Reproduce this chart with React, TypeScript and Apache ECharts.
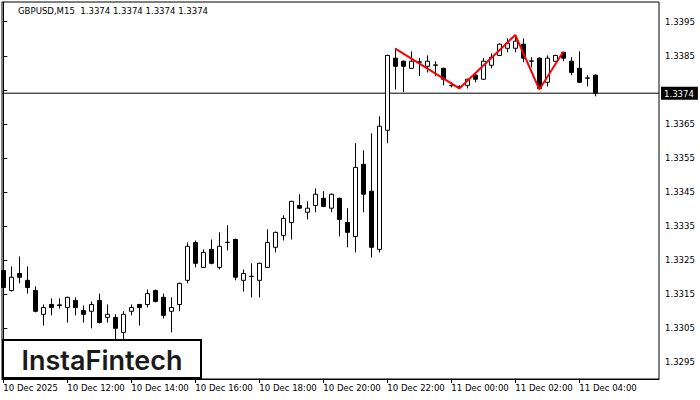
import React, { useEffect, useRef } from "react";
import * as echarts from "echarts";

const titleText = "GBPUSD,M15  1.3374 1.3374 1.3374 1.3374";
const logoText = "InstaFintech";

// 15-minute candles, index 0 = 10 Dec 2025 10:00
const opens = [
  1.33219, 1.3316, 1.3321, 1.3319, 1.3316, 1.3309, 1.33119, 1.33116, 1.3311, 1.33131,
  1.33101, 1.33099, 1.33131, 1.33081, 1.33081, 1.33037, 1.33099, 1.33119, 1.33119, 1.3316,
  1.3314, 1.33099, 1.33119, 1.3319, 1.33301, 1.33228, 1.33281, 1.33228, 1.33301, 1.3331,
  1.3319, 1.33201, 1.3319, 1.33228, 1.33287, 1.33322, 1.3336, 1.3341, 1.3339, 1.3341,
  1.33431, 1.33402, 1.33431, 1.3336, 1.33319, 1.33531, 1.33452, 1.33281, 1.33631, 1.33843,
  1.33834, 1.33813, 1.33831, 1.33819, 1.33822, 1.33813, 1.33763, 1.33758, 1.33763, 1.33793,
  1.33781, 1.33822, 1.33851, 1.33872, 1.33872, 1.33884, 1.33834, 1.33843, 1.33772, 1.33834,
  1.3386, 1.33834, 1.33813, 1.33784, 1.33793,
];
const closes = [
  1.33169, 1.33199, 1.33199, 1.33169, 1.33099, 1.3311, 1.3311, 1.33118, 1.3314, 1.3311,
  1.3309, 1.33119, 1.33066, 1.3309, 1.33049, 1.3309, 1.3311, 1.3311, 1.33151, 1.33128,
  1.33087, 1.3311, 1.33181, 1.3329, 1.3324, 1.33272, 1.3324, 1.3329, 1.33302, 1.33199,
  1.3321, 1.33202, 1.3324, 1.33301, 1.33331, 1.33372, 1.33422, 1.33402, 1.33402, 1.33443,
  1.33407, 1.33443, 1.33369, 1.33331, 1.33522, 1.33443, 1.33287, 1.33643, 1.33851, 1.33819,
  1.33819, 1.33834, 1.33832, 1.33834, 1.33823, 1.33781, 1.33762, 1.3376, 1.33781, 1.33781,
  1.33834, 1.33846, 1.33884, 1.33887, 1.33893, 1.33843, 1.33835, 1.33754, 1.33843, 1.33851,
  1.33843, 1.33801, 1.33772, 1.33785, 1.3374,
];
const lows = [
  1.33151, 1.33157, 1.33181, 1.33151, 1.33096, 1.33057, 1.33087, 1.33107, 1.33066, 1.33087,
  1.33066, 1.33049, 1.33063, 1.33066, 1.33013, 1.33013, 1.33087, 1.33057, 1.3311, 1.33125,
  1.33078, 1.33037, 1.33099, 1.33181, 1.33228, 1.33226, 1.33237, 1.33222, 1.33278, 1.3319,
  1.33157, 1.3314, 1.3314, 1.33226, 1.33272, 1.33307, 1.3331, 1.334, 1.33369, 1.3339,
  1.33405, 1.3339, 1.33319, 1.33287, 1.33272, 1.3339, 1.33257, 1.33272, 1.33593, 1.33751,
  1.33743, 1.33811, 1.3379, 1.33801, 1.3379, 1.33763, 1.33757, 1.33754, 1.33754, 1.33772,
  1.33779, 1.33813, 1.33849, 1.3386, 1.3386, 1.33831, 1.33816, 1.33752, 1.3376, 1.33832,
  1.33834, 1.33793, 1.3377, 1.3376, 1.33731,
];
const highs = [
  1.33254, 1.33231, 1.3326, 1.33231, 1.33172, 1.33119, 1.33137, 1.33137, 1.33142, 1.3314,
  1.33116, 1.33128, 1.33151, 1.33119, 1.3309, 1.33099, 1.33119, 1.33121, 1.33163, 1.33163,
  1.33151, 1.3314, 1.33183, 1.33301, 1.33307, 1.33281, 1.3331, 1.33331, 1.33352, 1.33313,
  1.33222, 1.3324, 1.33242, 1.3334, 1.33333, 1.33381, 1.33424, 1.33443, 1.33422, 1.3346,
  1.33452, 1.33445, 1.33433, 1.33402, 1.33593, 1.33572, 1.33622, 1.33672, 1.33853, 1.33872,
  1.33836, 1.33863, 1.33843, 1.33851, 1.33834, 1.33815, 1.33772, 1.33763, 1.33782, 1.33801,
  1.33843, 1.33857, 1.33886, 1.33901, 1.3391, 1.33901, 1.33846, 1.33845, 1.33851, 1.33853,
  1.33862, 1.33846, 1.33863, 1.33793, 1.33795,
];

const xTickIndex = [0, 8, 16, 24, 32, 40, 48, 56, 64, 72];
const xTickLabels = [
  "10 Dec 2025", "10 Dec 12:00", "10 Dec 14:00", "10 Dec 16:00", "10 Dec 18:00",
  "10 Dec 20:00", "10 Dec 22:00", "11 Dec 00:00", "11 Dec 02:00", "11 Dec 04:00",
];
const yTickValues = [1.3295, 1.3305, 1.3315, 1.3325, 1.3335, 1.3345, 1.3355, 1.3365, 1.3375, 1.3385, 1.3395];
const yTickLabels = ["1.3295", "1.3305", "1.3315", "1.3325", "1.3335", "1.3345", "1.3355", "1.3365", "", "1.3385", "1.3395"];

const lastPrice = 1.3374;
const lastPriceLabel = "1.3374";

const patternIndex = [49, 57, 64, 67, 70];
const patternPrices = [1.33871, 1.33754, 1.33911, 1.33751, 1.33862];

const X_MIN = -0.1625;
const X_MAX = 81.9625;
const FONT = "'DejaVu Sans Condensed', 'Liberation Sans', sans-serif";

export default function App() {
  const ref = useRef<HTMLDivElement>(null);
  useEffect(() => {
    if (!ref.current) return;
    const chart = echarts.init(ref.current, undefined, { renderer: "svg" });
    const candles = opens.map((o, i) => [i, o, closes[i], lows[i], highs[i]]);
    const pattern = patternIndex.map((x, i) => [x, patternPrices[i]]);
    chart.setOption({
      animation: false,
      backgroundColor: "#ffffff",
      grid: {
        left: 2, top: 2, width: 657, height: 377,
        show: true, borderColor: "#000", borderWidth: 1, backgroundColor: "transparent",
      },
      xAxis: {
        type: "value",
        min: X_MIN,
        max: X_MAX,
        splitLine: { show: false },
        axisLine: { show: true, lineStyle: { color: "#000", width: 1 } },
        axisTick: { show: true, length: 4, lineStyle: { color: "#000" }, customValues: xTickIndex },
        axisLabel: {
          customValues: xTickIndex,
          formatter: (v: number) => {
            const k = xTickIndex.indexOf(Math.round(v));
            return k >= 0 ? xTickLabels[k] : "";
          },
          align: "left",
          margin: 3,
          color: "#000",
          fontFamily: FONT,
          fontSize: 9.5,
        },
      },
      yAxis: {
        type: "value",
        position: "right",
        min: 1.329,
        max: 1.34008,
        splitLine: { show: false },
        axisLine: { show: true, lineStyle: { color: "#000", width: 1 } },
        axisTick: { show: true, length: 4, lineStyle: { color: "#000" }, customValues: yTickValues },
        axisLabel: {
          customValues: yTickValues,
          formatter: (v: number) => {
            let k = -1;
            yTickValues.forEach((t, i) => { if (Math.abs(t - v) < 1e-7) k = i; });
            return k >= 0 ? yTickLabels[k] : "";
          },
          margin: 6,
          color: "#000",
          fontFamily: FONT,
          fontSize: 9.5,
        },
      },
      series: [
        {
          type: "line",
          data: [[X_MIN, lastPrice], [X_MAX, lastPrice]],
          symbol: "none",
          silent: true,
          clip: false,
          lineStyle: { color: "#000", width: 1 },
          z: 1,
          endLabel: {
            show: true,
            formatter: lastPriceLabel,
            color: "#fff",
            backgroundColor: "#000",
            padding: [2, 4, 1, 3],
            distance: 2,
            fontFamily: FONT,
            fontSize: 9.5,
          },
        },
        {
          type: "candlestick",
          data: candles,
          barWidth: 5,
          clip: true,
          itemStyle: {
            color: "#ffffff",
            color0: "#000000",
            borderColor: "#000000",
            borderColor0: "#000000",
            borderWidth: 1,
          },
        },
        {
          type: "line",
          data: pattern,
          symbol: "none",
          lineStyle: { color: "#ff0000", width: 2 },
          z: 5,
        },
      ],
      graphic: [
        {
          type: "text",
          left: 18,
          top: 5,
          z: 100,
          style: { text: titleText, fill: "#000", font: `9.5px ${FONT}` },
        },
        {
          type: "rect",
          z: 100,
          shape: { x: 3, y: 340, width: 198, height: 38 },
          style: { fill: "#fff", stroke: "#000", lineWidth: 2 },
        },
        {
          type: "text",
          z: 101,
          x: 102,
          y: 360,
          style: {
            text: logoText,
            fill: "#1a1a1a",
            font: "600 27px Inter, Lato, sans-serif",
            align: "center",
            verticalAlign: "middle",
          },
        },
      ],
    });
    return () => chart.dispose();
  }, []);
  return <div ref={ref} style={{ width: 700, height: 400, position: "absolute", left: 0, top: 0 }} />;
}
